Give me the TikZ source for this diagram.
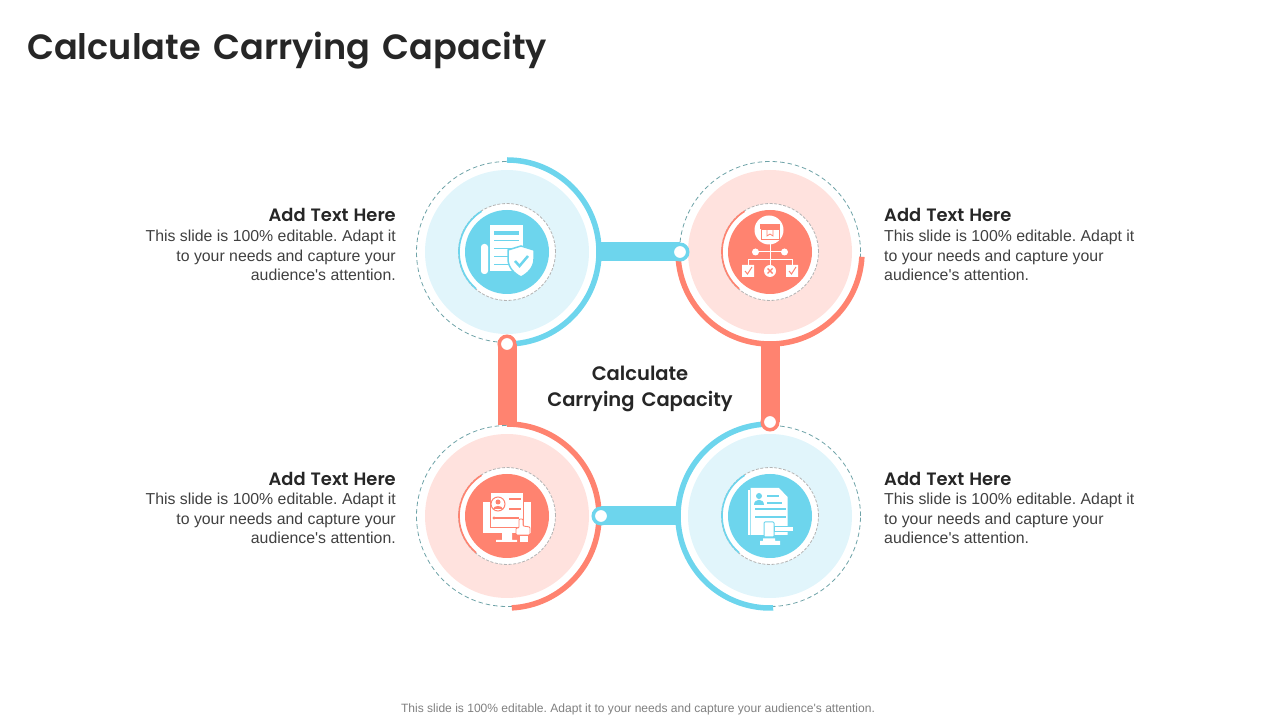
\documentclass[tikz,border=0pt]{standalone}
\usepackage{xcolor}
\usepackage{fontspec}
\setmainfont{Liberation Sans}
\newfontfamily\bodyfont{Liberation Sans}
\newfontfamily\headfont[BoldFont={Poppins SemiBold}]{Poppins}
\usepackage{tikz}

\definecolor{skyline}{HTML}{6DD5ED}
\definecolor{skypale}{HTML}{E1F5FB}
\definecolor{coralline}{HTML}{FF8370}
\definecolor{coralpale}{HTML}{FFE2DE}
\definecolor{ringteal}{HTML}{6FA3A8}
\definecolor{ringgrey}{HTML}{B4B4B4}
\definecolor{inktext}{HTML}{262626}
\definecolor{bodytext}{HTML}{404040}

\newcommand{\titlefont}{\headfont\bfseries\fontsize{35.1}{40}\selectfont\spaceskip=12.5pt\relax}
\newcommand{\centrefont}{\headfont\bfseries\fontsize{19.5}{26}\selectfont\spaceskip=7pt\relax}
\newcommand{\sidefont}{\headfont\bfseries\fontsize{17.9}{22}\selectfont\spaceskip=5pt\relax}

\tikzset{
  hubring/.style={circle,draw=ringteal,line width=.8pt,dash pattern=on 4.5pt off 3pt,minimum size=181pt,inner sep=0pt},
  paleblue/.style={circle,fill=skypale,minimum size=164pt,inner sep=0pt},
  palered/.style={circle,fill=coralpale,minimum size=164pt,inner sep=0pt},
  gapdisc/.style={circle,fill=white,draw=ringgrey,line width=.8pt,dash pattern=on 3pt off 1.6pt,minimum size=97pt,inner sep=0pt},
  coreblue/.style={circle,fill=skyline,minimum size=84pt,inner sep=0pt},
  corered/.style={circle,fill=coralline,minimum size=84pt,inner sep=0pt},
  arcblue/.style={draw=skyline,line width=5.5pt},
  arcred/.style={draw=coralline,line width=5.5pt},
  barblue/.style={draw=skyline,line width=19pt},
  barred/.style={draw=coralline,line width=19pt},
  dotblue/.style={circle,fill=white,draw=skyline,line width=3.5pt,minimum size=15.5pt,inner sep=0pt},
  dotred/.style={circle,fill=white,draw=coralline,line width=3.5pt,minimum size=15.5pt,inner sep=0pt},
  headtext/.style={font=\sidefont,text=inktext,inner sep=0pt},
  bodyleft/.style={font=\bodyfont\frenchspacing\fontsize{15.85}{19.6}\selectfont,text=bodytext,align=right,anchor=east,inner sep=0pt},
  bodyright/.style={font=\bodyfont\frenchspacing\fontsize{15.85}{19.6}\selectfont,text=bodytext,align=left,anchor=west,inner sep=0pt},
}

\begin{document}
\begin{tikzpicture}[x=1pt,y=1pt]
\useasboundingbox (0,0) rectangle (1280,720);

\path (27,660) node(title)[anchor=base west,inner sep=0pt,text=inktext,font=\titlefont] {Calculate Carrying Capacity};
\path (640,331) node(centre)[align=center,inner sep=0pt,text=inktext,font=\centrefont] {Calculate\\Carrying Capacity};
\path (638,10.5) node(foot)[inner sep=0pt,text=black!50,font=\bodyfont\frenchspacing\fontsize{12.05}{14}\selectfont] {This slide is 100\% editable. Adapt it to your needs and capture your audience's attention.};

% the four hubs
\path (507,468) node(hubTL)[hubring] {} node(paleTL)[paleblue] {} node(gapTL)[gapdisc] {} node(coreTL)[coreblue] {};
\path (770,468) node(hubTR)[hubring] {} node(paleTR)[palered] {} node(gapTR)[gapdisc] {} node(coreTR)[corered] {};
\path (507,204) node(hubBL)[hubring] {} node(paleBL)[palered] {} node(gapBL)[gapdisc] {} node(coreBL)[corered] {};
\path (770,204) node(hubBR)[hubring] {} node(paleBR)[paleblue] {} node(gapBR)[gapdisc] {} node(coreBR)[coreblue] {};

\draw[arcblue] (hubTL.center) ++(90:92) arc (90:-90:92);
\draw[arcred] (hubTR.center) ++(-3:92) arc (-3:-180:92);
\draw[arcred] (hubBL.center) ++(90:92) arc (90:-87:92);
\draw[arcblue] (hubBR.center) ++(90:92) arc (90:272:92);

\draw[skyline,line width=1.6pt] (hubTL.center) ++(122:48) arc (122:230:48);
\draw[coralline,line width=1.6pt] (hubTR.center) ++(122:48) arc (122:230:48);
\draw[coralline,line width=1.6pt] (hubBL.center) ++(122:48) arc (122:230:48);
\draw[skyline,line width=1.6pt] (hubBR.center) ++(122:48) arc (122:230:48);

% connectors
\path (680,468) coordinate(markTop) (507,376) coordinate(markLeft)
  (770,298) coordinate(markRight) (601,204) coordinate(markBottom);
\draw[barblue] (hubTL) -- (markTop);
\draw[barred] (hubBL) -- (markLeft);
\draw[barred] (hubTR) -- (markRight);
\draw[barblue] (hubBR) -- (markBottom);
\path (markTop) node(dotTop)[dotblue] {};
\path (markLeft) node(dotLeft)[dotred] {};
\path (markRight) node(dotRight)[dotred] {};
\path (markBottom) node(dotBottom)[dotblue] {};

% report and shield
\begin{scope}[shift={(coreTL.center)},y=-1pt]
\fill[white] (-17,-27) rectangle (16,19);
\fill[white,rounded corners=3pt] (-26,-8) rectangle (-19,22);
\fill[skyline] (-13,-21) rectangle (12,-17);
\foreach \liney in {-11,-3,5,13} \draw[skyline,line width=1pt] (-13,\liney) -- (12,\liney);
\filldraw[fill=white,draw=skyline,line width=1.5pt] (14,-6) -- (27,-2) -- (27,7) .. controls (27,16) and (20,22) .. (14,25) .. controls (8,22) and (1,16) .. (1,7) -- (1,-2) -- cycle;
\draw[skyline,line width=2.5pt] (8,9) -- (12.5,14) -- (21,4);
\end{scope}

% box tree
\begin{scope}[shift={(coreTR.center)},y=-1pt]
\fill[white] (-1,-22) circle (14.5);
\fill[coralline] (-10,-28) rectangle (10,-23);
\draw[coralline,line width=.8pt] (-9,-23) rectangle (9,-13);
\draw[coralline,line width=.8pt] (-3,-23) -- (-3,-16) -- (0,-18) -- (3,-16) -- (3,-23);
\draw[white,line width=1pt] (0,-8) -- (0,14) (-14,0) -- (14,0);
\draw[white,line width=1pt] (-22,14) -- (-22,8) -- (22,8) -- (22,14);
\fill[white] (-14.5,0) circle (3.5) (14.5,0) circle (3.5) (0,19) circle (6);
\fill[white] (-28,13) rectangle (-16,25) (16,13) rectangle (28,25);
\draw[coralline,line width=1pt] (-25,19) -- (-22.5,22) -- (-18,15) (19,19) -- (21.5,22) -- (26,15);
\draw[coralline,line width=1.4pt] (-2.5,16.5) -- (2.5,21.5) (2.5,16.5) -- (-2.5,21.5);
\end{scope}

% monitor and form
\begin{scope}[shift={(coreBL.center)},y=-1pt]
\fill[white] (-24,-14) rectangle (24,17);
\fill[white] (-5,17) rectangle (5,24) (-11,24) rectangle (10,26);
\filldraw[fill=white,draw=coralline,line width=1pt] (-17,-23) rectangle (16,12);
\filldraw[fill=white,draw=coralline,line width=1pt] (-9,-12) circle (7);
\fill[coralline] (-9,-14) circle (2.5) (-14,-7) .. controls (-13,-11) and (-5,-11) .. (-4,-7) -- cycle;
\draw[coralline,line width=1.2pt] (2,-17) -- (14,-17) (2,-7) -- (14,-7) (-13,2) -- (12,2);
\fill[coralline] (-13,2) circle (1.6);
\filldraw[fill=white,draw=coralline,line width=.9pt,rounded corners=1pt] (12,3) -- (16,3) -- (16,10) -- (23,11) -- (23,19) -- (9,19) -- (9,12) -- (12,12) -- cycle;
\fill[white] (13,20) rectangle (21,26);
\end{scope}

% contract and gavel
\begin{scope}[shift={(coreBR.center)},y=-1pt]
\fill[white] (-22,-26) rectangle (-20,19);
\fill[white] (-19.5,-28) -- (9,-28) -- (17.5,-19) -- (17.5,19) -- (-19.5,19) -- cycle;
\fill[skyline] (-11,-20) circle (3) (-16,-11) .. controls (-16,-18) and (-6,-18) .. (-6,-11) -- cycle;
\draw[skyline,line width=1.2pt] (-3,-20) -- (9,-20) (-3,-13) -- (12,-13) (-15,-7) -- (16,-7) (-15,1) -- (16,1);
\filldraw[fill=white,draw=skyline,line width=1pt,rounded corners=1pt] (-6,6) rectangle (4,21);
\filldraw[fill=white,draw=skyline,line width=1pt] (4,11) rectangle (23,16);
\draw[white,line width=1pt] (5,18.5) -- (17,18.5);
\fill[white] (-7,22.5) rectangle (5,25) (-10,25) rectangle (10,29);
\end{scope}

% side texts
\path (396,505) node(headTL)[headtext,anchor=east] {Add Text Here};
\path (396,464.5) node(bodyTL)[bodyleft] {This slide is 100\% editable. Adapt it\\to your needs and capture your\\audience's attention.};
\path (884,505) node(headTR)[headtext,anchor=west] {Add Text Here};
\path (884,464.5) node(bodyTR)[bodyright] {This slide is 100\% editable. Adapt it\\to your needs and capture your\\audience's attention.};
\path (396,241) node(headBL)[headtext,anchor=east] {Add Text Here};
\path (396,201.5) node(bodyBL)[bodyleft] {This slide is 100\% editable. Adapt it\\to your needs and capture your\\audience's attention.};
\path (884,241) node(headBR)[headtext,anchor=west] {Add Text Here};
\path (884,201.5) node(bodyBR)[bodyright] {This slide is 100\% editable. Adapt it\\to your needs and capture your\\audience's attention.};
\end{tikzpicture}
\end{document}
